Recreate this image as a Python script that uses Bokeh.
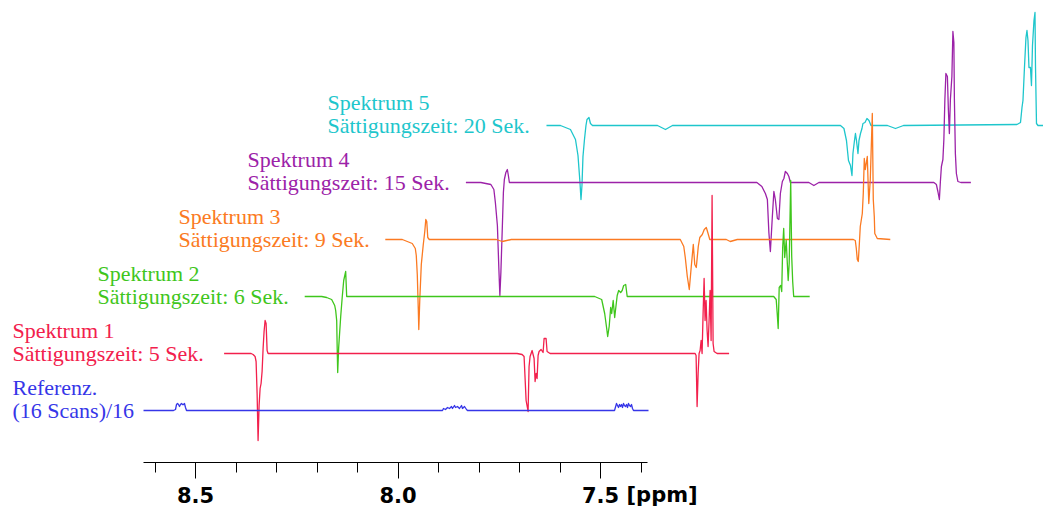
from bokeh.plotting import figure
from bokeh.models import Range1d, FixedTicker, Label, NumeralTickFormatter
from bokeh.embed import file_html
from bokeh.resources import INLINE

# ---------------- data (ppm, intensity) ----------------
ref_ppm = [8.6284, 8.5543, 8.5494, 8.5469, 8.5445, 8.5420, 8.5395, 8.5371, 8.5346, 8.5321, 8.5297, 8.5272, 8.5247, 8.5222,
           7.8902, 7.8877, 7.8827, 7.8778, 7.8729, 7.8679, 7.8655, 7.8605, 7.8580, 7.8531, 7.8482, 7.8432, 7.8408, 7.8358, 7.8309, 7.8284,
           7.4654, 7.4605, 7.4580, 7.4556, 7.4531, 7.4506, 7.4482, 7.4457, 7.4432, 7.4408, 7.4383, 7.4358, 7.4334, 7.4309, 7.4284, 7.4259, 7.4235, 7.4210, 7.4185,
           7.3815]
ref_int = [0, 0, 1, 6, 7, 6, 4, 6, 7, 6, 6, 7, 3, 0,
           0, 2, 1, 3, 2, 4, 2, 5, 3, 4, 2, 5, 2, 4, 1, 0,
           0, 7, 5, 3, 6, 4, 6, 3, 7, 5, 4, 6, 3, 7, 5, 4, 6, 2, 0,
           0]

s1_ppm = [8.6284, 8.5618, 8.5568, 8.5519, 8.5494, 8.5469, 8.5445, 8.5420, 8.5395, 8.5371, 8.5346, 8.5321, 8.5297, 8.5272, 8.5247, 8.5222, 8.5198,
          7.9050, 7.8926, 7.8877, 7.8827, 7.8778, 7.8754, 7.8729, 7.8704, 7.8679, 7.8630, 7.8605, 7.8580, 7.8556, 7.8531, 7.8507, 7.8457, 7.8408, 7.8383, 7.8334, 7.8309, 7.8235,
          7.4654, 7.4630, 7.4605, 7.4580, 7.4556, 7.4531, 7.4506, 7.4482, 7.4457, 7.4432, 7.4408, 7.4383, 7.4358, 7.4334, 7.4309, 7.4284, 7.4259, 7.4235, 7.4210, 7.4185, 7.4111,
          7.3815]
s1_int = [0, 0, -1, -3, -8, -40, -87, -52, -35, -30, -18, 5, 22, 33, 30, 3, 0,
          0, -1, -3, -47, -58, -13, -3, 0, 3, -5, -28, -20, -25, -2, 2, 4, 1, 15, 15, 2, 0,
          0, -2, -53, -20, 0, 3, 13, 0, 40, 75, 33, 53, 23, 7, 33, 63, 13, 158, 10, 2, 0,
          0]

s2_ppm = [8.6284, 8.5864, 8.5741, 8.5618, 8.5543, 8.5519, 8.5494, 8.5482, 8.5469, 8.5445, 8.5395, 8.5358, 8.5321, 8.5272, 8.5247, 8.5148,
          7.9124, 7.8951, 7.8877, 7.8827, 7.8803, 7.8766, 7.8729, 7.8704, 7.8667, 7.8630, 7.8605, 7.8568, 7.8531, 7.8482, 7.8445, 7.8408, 7.8358, 7.8321,
          7.4704, 7.4642, 7.4617, 7.4593, 7.4568, 7.4531, 7.4506, 7.4482, 7.4457, 7.4432, 7.4395, 7.4371, 7.4346, 7.4321, 7.4284, 7.4259, 7.4235, 7.4210,
          7.3815]
s2_int = [0, 0, -1, -3, -9, -14, -24, -51, -76, -51, -20, -1, 16, 25, 0, 0,
          0, -3, -17, -32, -40, -30, -11, -17, -4, -21, -12, 1, 6, 4, 6, 11, 12, 0,
          0, -3, -17, -32, 9, 11, 5, 49, 68, 39, 56, 36, 16, 33, 116, 40, 15, 0,
          0]

s3_ppm = [8.6284, 8.5864, 8.5741, 8.5618, 8.5543, 8.5519, 8.5494, 8.5469, 8.5457, 8.5432, 8.5395, 8.5346, 8.5309, 8.5284, 8.5260, 8.5235, 8.5198,
          8.3543, 8.3395, 8.3173,
          7.9000, 7.8914, 7.8877, 7.8827, 7.8778, 7.8729, 7.8679, 7.8643, 7.8605, 7.8556, 7.8519, 7.8457, 7.8408, 7.8358, 7.8321, 7.8272, 7.7865, 7.7766, 7.7593,
          7.4728, 7.4679, 7.4654, 7.4630, 7.4605, 7.4580, 7.4556, 7.4506, 7.4482, 7.4457, 7.4432, 7.4383, 7.4346, 7.4309, 7.4259, 7.4235, 7.4210, 7.4198, 7.4136,
          7.3815]
s3_int = [0, 0, -2, -4, -9, -16, -35, -70, -90, -60, -25, -5, 8, 20, 18, 2, 0,
          0, -2, 0,
          0, -7, -18, -37, -50, -27, -5, -25, -28, -7, 2, 5, 10, 12, 7, 0, 0, -2, 0,
          0, -1, -9, -20, -22, -5, 13, 26, 46, 81, 70, 83, 36, 60, 126, 40, 23, 6, 1,
          0]

s4_ppm = [8.6284, 8.5914, 8.5667, 8.5593, 8.5556, 8.5506, 8.5469, 8.5445, 8.5420, 8.5383, 8.5358, 8.5334, 8.5297, 8.5260, 8.5235, 8.5210,
          7.9099, 7.8976, 7.8889, 7.8840, 7.8803, 7.8766, 7.8717, 7.8679, 7.8643, 7.8593, 7.8556, 7.8519, 7.8470, 7.8432, 7.8396, 7.8346, 7.8309, 7.8272, 7.7815, 7.7692, 7.7568,
          7.4728, 7.4667, 7.4630, 7.4593, 7.4568, 7.4543, 7.4506, 7.4482, 7.4457, 7.4432, 7.4395, 7.4371, 7.4346, 7.4321, 7.4284, 7.4259, 7.4235, 7.4222, 7.4198, 7.4173, 7.4136, 7.4062,
          7.3815]
s4_int = [0, 0, -2, -7, -20, -43, -87, -113, -90, -43, -10, 3, 10, 13, 7, 0,
          0, -4, -11, -17, -50, -69, -34, -9, -17, -36, -37, -11, 1, 4, 11, 9, 6, 0, 0, -3, 0,
          0, -2, -9, -17, 1, 16, 23, 43, 83, 109, 106, 73, 49, 83, 106, 151, 140, 83, 29, 9, 1, 0,
          0]

s5_ppm = [8.6284, 8.5939, 8.5692, 8.5568, 8.5506, 8.5457, 8.5432, 8.5408, 8.5383, 8.5346, 8.5309, 8.5284, 8.5235, 8.5198, 8.5148, 8.3543, 8.3346, 8.3173,
          7.9025, 7.8939, 7.8877, 7.8827, 7.8778, 7.8741, 7.8717, 7.8679, 7.8655, 7.8630, 7.8593, 7.8568, 7.8531, 7.8494, 7.8470, 7.8420, 7.8371, 7.8321, 7.8272, 7.7865, 7.7667, 7.7469,
          7.4667, 7.4580, 7.4543, 7.4519, 7.4482, 7.4445, 7.4420, 7.4395, 7.4371, 7.4334, 7.4309, 7.4284, 7.4247, 7.4222, 7.4210, 7.4185, 7.4148,
          7.3815]
s5_int = [0, 0, -4, -14, -30, -57, -74, -60, -31, -14, 0, 6, 8, 2, 0, 0, -4, 0,
          0, -3, -15, -35, -40, -50, -28, -15, -8, -15, -28, -15, -8, -3, 2, 3, 7, 5, 0, 0, -3, 0,
          1, 3, 18, 25, 58, 88, 95, 85, 58, 58, 40, 80, 105, 113, 60, 2, 0,
          0]

line1_labels = ["Referenz.", "Spektrum 1", "Spektrum 2", "Spektrum 3", "Spektrum 4", "Spektrum 5"]
line2_labels = ["(16 Scans)/16", "Sättigungszeit: 5 Sek.", "Sättigungszeit: 6 Sek.",
                "Sättigungszeit: 9 Sek.", "Sättigungszeit: 15 Sek.", "Sättigungszeit: 20 Sek."]
major_ticks = [8.5, 8.0, 7.5]
minor_ticks = [8.6, 8.4, 8.3, 8.2, 8.1, 7.9, 7.8, 7.7, 7.6, 7.4]
unit_label = "[ppm]"

# ---------------- layout / style ----------------
colors = ["#3636e8", "#f2204c", "#3fc61c", "#fb7a22", "#9c22a8", "#1ec6cc"]
X_SHIFT = 0.199     # ppm shift per stacked spectrum
Y_SHIFT = 57        # vertical shift per stacked spectrum
BASE = 52
label_x = [8.9519, 8.9519, 8.7420, 8.5420, 8.3716, 8.1741]

p = figure(width=1043, height=508, x_range=Range1d(8.9815, 6.4062), y_range=Range1d(-46, 462),
           output_backend="svg", toolbar_location=None, y_axis_location=None,
           min_border_left=0, min_border_right=0, min_border_top=0, min_border_bottom=0)
p.background_fill_color = "white"
p.border_fill_color = "white"
p.outline_line_color = None
p.xgrid.visible = False
p.ygrid.visible = False

ax = p.xaxis[0]
ax.fixed_location = 0
ax.ticker = FixedTicker(ticks=major_ticks, minor_ticks=minor_ticks)
ax.formatter = NumeralTickFormatter(format="0.0")
ax.bounds = (7.385, 8.628)
ax.axis_line_color = "black"
ax.axis_line_width = 1
ax.major_tick_line_color = "black"
ax.minor_tick_line_color = "black"
ax.major_tick_in = 0
ax.major_tick_out = 16
ax.minor_tick_in = 0
ax.minor_tick_out = 10
ax.major_label_standoff = 8
ax.major_label_text_font = "DejaVu Sans"
ax.major_label_text_font_style = "bold"
ax.major_label_text_font_size = "21px"
ax.major_label_text_color = "black"

spectra = [(ref_ppm, ref_int), (s1_ppm, s1_int), (s2_ppm, s2_int),
           (s3_ppm, s3_int), (s4_ppm, s4_int), (s5_ppm, s5_int)]

for i in reversed(range(len(spectra))):
    ppm, inten = spectra[i]
    xs = [v - i * X_SHIFT for v in ppm]
    ys = [BASE + i * Y_SHIFT + v for v in inten]
    p.line(xs, ys, line_color=colors[i], line_width=1.3, line_join="round")

for i in range(len(spectra)):
    y2 = BASE + i * Y_SHIFT
    p.add_layout(Label(x=label_x[i], y=y2 + 23.5, text=line1_labels[i], text_color=colors[i],
                       text_font="Liberation Serif", text_font_size="22px", text_baseline="alphabetic"))
    p.add_layout(Label(x=label_x[i], y=y2, text=line2_labels[i], text_color=colors[i],
                       text_font="Liberation Serif", text_font_size="22px", text_baseline="alphabetic"))

p.add_layout(Label(x=7.4358, y=-20, text=unit_label, text_color="black", text_font="DejaVu Sans",
                   text_font_style="bold", text_font_size="21px", text_baseline="top"))

open("out.html", "w").write(file_html(p, INLINE))
